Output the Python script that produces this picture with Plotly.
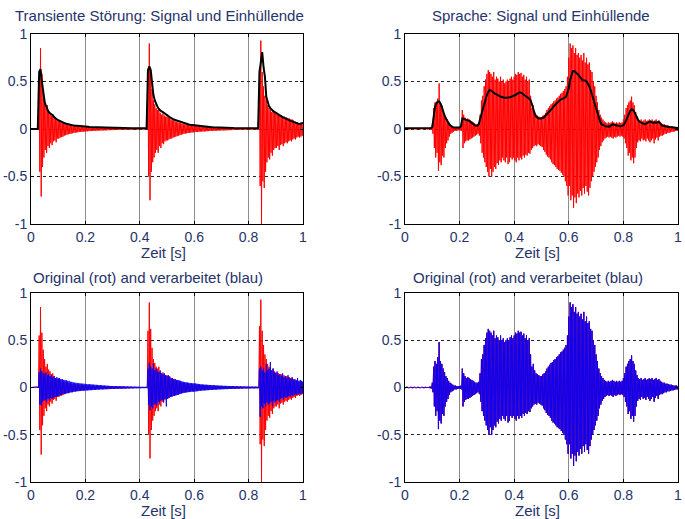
import plotly.graph_objects as go

# time grid of the sampled envelopes (s)
t = [round(0.005 * i, 4) for i in range(201)]
y_ticks = [-1, -0.5, 0, 0.5, 1]
y_tick_text = ["-1", "-0.5", "0", "0.5", "1"]
x_ticks = [0, 0.2, 0.4, 0.6, 0.8, 1]
x_tick_text = ["0", "0.2", "0.4", "0.6", "0.8", "1"]

titles = ["Transiente Störung: Signal und Einhüllende", "Sprache: Signal und Einhüllende",
          "Original (rot) and verarbeitet (blau)", "Original (rot) and verarbeitet (blau)"]
x_label = "Zeit [s]"

# transient signal: upper / lower excursions per 5 ms
trans_up = [
    0, 0, 0, 0, 0, 0.005, 0.55, 0.85, 0.58, 0.40, 0.30, 0.22, 0.25, 0.19, 0.17, 0.14, 0.15, 0.12, 0.10, 0.09,
    0.09, 0.08, 0.075, 0.07, 0.065, 0.06, 0.055, 0.05, 0.045, 0.045, 0.04, 0.04, 0.035, 0.035, 0.03, 0.03, 0.03, 0.028, 0.026, 0.025,
    0.025, 0.024, 0.022, 0.022, 0.02, 0.02, 0.019, 0.018, 0.018, 0.017, 0.016, 0.016, 0.015, 0.015, 0.014, 0.014, 0.013, 0.013, 0.012, 0.012,
    0.012, 0.011, 0.011, 0.01, 0.01, 0.01, 0.009, 0.009, 0.009, 0.008, 0.008, 0.008, 0.007, 0.007, 0.007, 0.006, 0.006, 0.006, 0.006, 0.005,
    0.005, 0.005, 0.005, 0.005, 0.005, 0.005, 0.6, 0.9, 0.62, 0.42, 0.30, 0.26, 0.22, 0.2, 0.22, 0.17, 0.15, 0.16, 0.14, 0.13,
    0.13, 0.12, 0.12, 0.1, 0.09, 0.09, 0.08, 0.075, 0.07, 0.065, 0.06, 0.055, 0.05, 0.048, 0.045, 0.042, 0.04, 0.038, 0.036, 0.034,
    0.033, 0.032, 0.03, 0.03, 0.028, 0.027, 0.026, 0.025, 0.024, 0.023, 0.022, 0.021, 0.02, 0.02, 0.019, 0.018, 0.018, 0.017, 0.016, 0.016,
    0.015, 0.015, 0.014, 0.014, 0.013, 0.013, 0.012, 0.012, 0.011, 0.011, 0.01, 0.01, 0.01, 0.009, 0.009, 0.009, 0.008, 0.008, 0.008, 0.008,
    0.007, 0.007, 0.007, 0.007, 0.007, 0.007, 0.007, 0.007, 0.65, 0.93, 0.6, 0.45, 0.35, 0.3, 0.25, 0.22, 0.2, 0.18, 0.2, 0.17,
    0.16, 0.15, 0.15, 0.14, 0.14, 0.13, 0.13, 0.12, 0.12, 0.11, 0.11, 0.1, 0.1, 0.09, 0.08, 0.07, 0.07, 0.06, 0.065, 0.06,
    0.06]
trans_lo = [
    0, 0, 0, 0, 0, -0.005, -0.45, -0.71, -0.4, -0.3, -0.22, -0.25, -0.18, -0.2, -0.15, -0.17, -0.13, -0.12, -0.14, -0.1,
    -0.1, -0.09, -0.085, -0.08, -0.07, -0.065, -0.06, -0.055, -0.05, -0.05, -0.045, -0.04, -0.04, -0.035, -0.035, -0.03, -0.03, -0.03, -0.028, -0.026,
    -0.025, -0.024, -0.022, -0.022, -0.02, -0.02, -0.019, -0.018, -0.018, -0.017, -0.016, -0.016, -0.015, -0.015, -0.014, -0.014, -0.013, -0.013, -0.012, -0.012,
    -0.012, -0.011, -0.011, -0.01, -0.01, -0.01, -0.009, -0.009, -0.009, -0.008, -0.008, -0.008, -0.007, -0.007, -0.007, -0.006, -0.006, -0.006, -0.006, -0.005,
    -0.005, -0.005, -0.005, -0.005, -0.005, -0.005, -0.5, -0.75, -0.45, -0.35, -0.3, -0.25, -0.22, -0.25, -0.18, -0.2, -0.15, -0.16, -0.13, -0.12,
    -0.12, -0.11, -0.1, -0.1, -0.09, -0.085, -0.08, -0.075, -0.07, -0.065, -0.06, -0.055, -0.05, -0.048, -0.045, -0.042, -0.04, -0.038, -0.036, -0.034,
    -0.033, -0.032, -0.03, -0.03, -0.028, -0.027, -0.026, -0.025, -0.024, -0.023, -0.022, -0.021, -0.02, -0.02, -0.019, -0.018, -0.018, -0.017, -0.016, -0.016,
    -0.015, -0.015, -0.014, -0.014, -0.013, -0.013, -0.012, -0.012, -0.011, -0.011, -0.01, -0.01, -0.01, -0.009, -0.009, -0.009, -0.008, -0.008, -0.008, -0.008,
    -0.007, -0.007, -0.007, -0.007, -0.007, -0.007, -0.007, -0.007, -0.6, -1.0, -0.55, -0.62, -0.45, -0.35, -0.3, -0.32, -0.25, -0.28, -0.22, -0.2,
    -0.2, -0.18, -0.22, -0.17, -0.16, -0.18, -0.15, -0.14, -0.15, -0.13, -0.12, -0.13, -0.11, -0.1, -0.11, -0.09, -0.08, -0.09, -0.08, -0.07,
    -0.07]
trans_env = [
    0, 0, 0, 0, 0, 0, 0.6, 0.63, 0.5, 0.36, 0.29, 0.24, 0.2, 0.18, 0.165, 0.155, 0.145, 0.125, 0.11, 0.1,
    0.093, 0.085, 0.078, 0.07, 0.065, 0.06, 0.055, 0.05, 0.047, 0.044, 0.041, 0.038, 0.036, 0.034, 0.032, 0.03, 0.029, 0.028, 0.027, 0.026,
    0.025, 0.024, 0.023, 0.022, 0.021, 0.02, 0.02, 0.019, 0.018, 0.018, 0.017, 0.017, 0.016, 0.016, 0.015, 0.015, 0.014, 0.014, 0.013, 0.013,
    0.012, 0.012, 0.012, 0.011, 0.011, 0.011, 0.01, 0.01, 0.01, 0.01, 0.009, 0.009, 0.009, 0.009, 0.008, 0.008, 0.008, 0.008, 0.007, 0.007,
    0.007, 0.007, 0.007, 0.007, 0.007, 0.007, 0.62, 0.66, 0.62, 0.45, 0.36, 0.3, 0.26, 0.235, 0.21, 0.195, 0.185, 0.178, 0.165, 0.155,
    0.147, 0.135, 0.125, 0.115, 0.105, 0.1, 0.095, 0.09, 0.08, 0.075, 0.07, 0.065, 0.06, 0.056, 0.053, 0.05, 0.047, 0.044, 0.042, 0.04,
    0.038, 0.036, 0.034, 0.032, 0.03, 0.028, 0.026, 0.025, 0.024, 0.023, 0.022, 0.021, 0.02, 0.019, 0.018, 0.018, 0.017, 0.016, 0.016, 0.015,
    0.015, 0.014, 0.014, 0.013, 0.013, 0.012, 0.012, 0.011, 0.011, 0.01, 0.01, 0.01, 0.009, 0.009, 0.009, 0.008, 0.008, 0.008, 0.008, 0.008,
    0.008, 0.008, 0.008, 0.008, 0.008, 0.008, 0.008, 0.008, 0.6, 0.7, 0.81, 0.65, 0.55, 0.34, 0.28, 0.24, 0.22, 0.2, 0.19, 0.18,
    0.17, 0.16, 0.15, 0.14, 0.13, 0.125, 0.12, 0.115, 0.11, 0.1, 0.09, 0.085, 0.08, 0.077, 0.07, 0.06, 0.055, 0.053, 0.055, 0.06,
    0.065]
# processed (compressed) transient signal
trans_proc_up = [
    0, 0, 0, 0, 0, 0.005, 0.16, 0.2, 0.17, 0.15, 0.14, 0.16, 0.13, 0.14, 0.12, 0.13, 0.11, 0.12, 0.1, 0.11,
    0.1, 0.1, 0.09, 0.09, 0.08, 0.08, 0.075, 0.07, 0.07, 0.06, 0.06, 0.055, 0.05, 0.05, 0.048, 0.045, 0.044, 0.042, 0.04, 0.04,
    0.038, 0.036, 0.035, 0.034, 0.033, 0.032, 0.03, 0.029, 0.028, 0.027, 0.026, 0.025, 0.024, 0.022, 0.021, 0.02, 0.019, 0.018, 0.017, 0.016,
    0.016, 0.015, 0.015, 0.014, 0.014, 0.013, 0.013, 0.012, 0.012, 0.011, 0.011, 0.01, 0.01, 0.01, 0.009, 0.009, 0.009, 0.008, 0.008, 0.008,
    0.008, 0.007, 0.007, 0.007, 0.007, 0.007, 0.2, 0.26, 0.22, 0.2, 0.25, 0.18, 0.2, 0.17, 0.16, 0.18, 0.15, 0.14, 0.15, 0.13,
    0.12, 0.13, 0.11, 0.1, 0.1, 0.09, 0.09, 0.08, 0.08, 0.075, 0.07, 0.065, 0.06, 0.058, 0.055, 0.052, 0.05, 0.048, 0.046, 0.045,
    0.044, 0.042, 0.04, 0.038, 0.036, 0.034, 0.032, 0.031, 0.03, 0.029, 0.028, 0.027, 0.026, 0.025, 0.024, 0.023, 0.022, 0.021, 0.02, 0.02,
    0.019, 0.018, 0.018, 0.017, 0.017, 0.016, 0.016, 0.015, 0.015, 0.014, 0.014, 0.013, 0.013, 0.012, 0.012, 0.011, 0.011, 0.01, 0.01, 0.01,
    0.01, 0.01, 0.009, 0.009, 0.009, 0.009, 0.008, 0.008, 0.2, 0.22, 0.18, 0.2, 0.16, 0.25, 0.18, 0.2, 0.27, 0.18, 0.2, 0.16,
    0.15, 0.17, 0.13, 0.14, 0.12, 0.15, 0.11, 0.12, 0.1, 0.13, 0.1, 0.09, 0.11, 0.08, 0.09, 0.08, 0.1, 0.07, 0.08, 0.07,
    0.06]
trans_proc_lo = [
    0, 0, 0, 0, 0, -0.005, -0.18, -0.19, -0.15, -0.14, -0.13, -0.15, -0.12, -0.13, -0.11, -0.12, -0.11, -0.1, -0.1, -0.09,
    -0.09, -0.08, -0.08, -0.07, -0.07, -0.065, -0.06, -0.06, -0.055, -0.05, -0.05, -0.045, -0.045, -0.04, -0.04, -0.038, -0.037, -0.035, -0.034, -0.033,
    -0.032, -0.031, -0.03, -0.029, -0.028, -0.027, -0.026, -0.025, -0.024, -0.023, -0.022, -0.021, -0.02, -0.02, -0.019, -0.018, -0.018, -0.017, -0.016, -0.016,
    -0.015, -0.015, -0.014, -0.014, -0.013, -0.013, -0.012, -0.012, -0.011, -0.011, -0.01, -0.01, -0.01, -0.009, -0.009, -0.009, -0.008, -0.008, -0.008, -0.008,
    -0.008, -0.007, -0.007, -0.007, -0.007, -0.007, -0.18, -0.24, -0.2, -0.22, -0.18, -0.17, -0.19, -0.15, -0.16, -0.14, -0.13, -0.15, -0.12, -0.2,
    -0.12, -0.11, -0.1, -0.1, -0.09, -0.09, -0.085, -0.08, -0.075, -0.07, -0.065, -0.06, -0.058, -0.055, -0.052, -0.05, -0.048, -0.046, -0.045, -0.044,
    -0.043, -0.041, -0.039, -0.037, -0.035, -0.033, -0.032, -0.031, -0.03, -0.029, -0.028, -0.027, -0.026, -0.025, -0.024, -0.023, -0.022, -0.021, -0.02, -0.02,
    -0.019, -0.018, -0.018, -0.017, -0.017, -0.016, -0.016, -0.015, -0.015, -0.014, -0.014, -0.013, -0.013, -0.012, -0.012, -0.011, -0.011, -0.01, -0.01, -0.01,
    -0.01, -0.01, -0.009, -0.009, -0.009, -0.009, -0.008, -0.008, -0.31, -0.2, -0.22, -0.17, -0.2, -0.16, -0.18, -0.17, -0.15, -0.2, -0.14, -0.16,
    -0.14, -0.13, -0.15, -0.12, -0.11, -0.13, -0.1, -0.11, -0.1, -0.09, -0.1, -0.08, -0.09, -0.08, -0.07, -0.08, -0.07, -0.06, -0.07, -0.06,
    -0.05]

# speech signal: upper / lower excursions per 5 ms
speech_up = [
    0.003, 0.003, 0.003, 0.003, 0.003, 0.003, 0.003, 0.003, 0.003, 0.003, 0.003, 0.003, 0.003, 0.003, 0.003, 0.003, 0.004, 0.005, 0.008, 0.01,
    0.05, 0.22, 0.28, 0.25, 0.32, 0.48, 0.28, 0.25, 0.2, 0.16, 0.12, 0.1, 0.07, 0.05, 0.04, 0.03, 0.02, 0.02, 0.015, 0.015,
    0.015, 0.02, 0.2, 0.15, 0.12, 0.1, 0.11, 0.1, 0.09, 0.08, 0.07, 0.06, 0.05, 0.05, 0.06, 0.15, 0.3, 0.35, 0.45, 0.52,
    0.58, 0.62, 0.6, 0.58, 0.55, 0.6, 0.52, 0.55, 0.53, 0.5, 0.55, 0.5, 0.52, 0.48, 0.5, 0.52, 0.5, 0.53, 0.55, 0.52,
    0.55, 0.58, 0.57, 0.6, 0.58, 0.59, 0.55, 0.57, 0.52, 0.55, 0.5, 0.52, 0.35, 0.22, 0.25, 0.18, 0.15, 0.14, 0.13, 0.12,
    0.12, 0.14, 0.15, 0.17, 0.2, 0.22, 0.24, 0.26, 0.27, 0.29, 0.3, 0.32, 0.33, 0.35, 0.37, 0.38, 0.4, 0.42, 0.45, 0.55,
    0.75, 0.9, 0.85, 0.88, 0.8, 0.85, 0.78, 0.8, 0.75, 0.78, 0.72, 0.8, 0.7, 0.75, 0.68, 0.7, 0.62, 0.6, 0.5, 0.45,
    0.35, 0.28, 0.2, 0.15, 0.12, 0.1, 0.08, 0.07, 0.06, 0.07, 0.06, 0.07, 0.08, 0.07, 0.06, 0.07, 0.06, 0.07, 0.06, 0.07,
    0.1, 0.15, 0.22, 0.25, 0.28, 0.3, 0.34, 0.28, 0.25, 0.18, 0.13, 0.1, 0.09, 0.1, 0.08, 0.09, 0.1, 0.08, 0.09, 0.1,
    0.09, 0.1, 0.08, 0.09, 0.1, 0.08, 0.09, 0.07, 0.06, 0.05, 0.05, 0.04, 0.04, 0.035, 0.03, 0.03, 0.025, 0.02, 0.02, 0.02,
    0.015]
speech_lo = [
    -0.003, -0.003, -0.003, -0.003, -0.003, -0.003, -0.003, -0.003, -0.003, -0.003, -0.003, -0.003, -0.003, -0.003, -0.003, -0.003, -0.004, -0.005, -0.008, -0.01,
    -0.05, -0.2, -0.3, -0.25, -0.44, -0.35, -0.38, -0.28, -0.3, -0.2, -0.15, -0.12, -0.08, -0.05, -0.04, -0.03, -0.02, -0.02, -0.015, -0.015,
    -0.015, -0.02, -0.2, -0.15, -0.13, -0.12, -0.12, -0.11, -0.1, -0.09, -0.08, -0.07, -0.06, -0.05, -0.07, -0.15, -0.25, -0.3, -0.35, -0.4,
    -0.45, -0.5, -0.42, -0.5, -0.45, -0.4, -0.42, -0.36, -0.38, -0.33, -0.35, -0.3, -0.33, -0.35, -0.3, -0.37, -0.35, -0.3, -0.32, -0.3,
    -0.33, -0.35, -0.3, -0.33, -0.3, -0.32, -0.28, -0.3, -0.27, -0.28, -0.25, -0.26, -0.22, -0.2, -0.18, -0.17, -0.18, -0.16, -0.17, -0.18,
    -0.19, -0.22, -0.24, -0.27, -0.29, -0.3, -0.32, -0.35, -0.37, -0.38, -0.4, -0.42, -0.43, -0.44, -0.46, -0.48, -0.5, -0.55, -0.6, -0.7,
    -0.6, -0.75, -0.7, -0.83, -0.72, -0.78, -0.68, -0.72, -0.65, -0.7, -0.62, -0.68, -0.6, -0.66, -0.7, -0.62, -0.55, -0.5, -0.45, -0.4,
    -0.35, -0.3, -0.22, -0.18, -0.14, -0.12, -0.1, -0.09, -0.08, -0.09, -0.08, -0.09, -0.1, -0.08, -0.09, -0.08, -0.07, -0.08, -0.07, -0.08,
    -0.1, -0.15, -0.2, -0.28, -0.25, -0.33, -0.3, -0.36, -0.3, -0.2, -0.14, -0.12, -0.13, -0.1, -0.12, -0.11, -0.13, -0.1, -0.12, -0.14,
    -0.12, -0.1, -0.15, -0.11, -0.09, -0.12, -0.08, -0.07, -0.07, -0.06, -0.05, -0.05, -0.04, -0.04, -0.035, -0.03, -0.03, -0.025, -0.02, -0.02,
    -0.015]
speech_env = [
    0.008, 0.008, 0.008, 0.008, 0.008, 0.008, 0.008, 0.008, 0.008, 0.008, 0.008, 0.008, 0.008, 0.008, 0.008, 0.008, 0.008, 0.008, 0.009, 0.01,
    0.02, 0.15, 0.235, 0.27, 0.29, 0.29, 0.27, 0.23, 0.18, 0.14, 0.11, 0.08, 0.06, 0.04, 0.025, 0.02, 0.015, 0.015, 0.015, 0.015,
    0.015, 0.03, 0.11, 0.105, 0.1, 0.1, 0.095, 0.085, 0.075, 0.06, 0.045, 0.04, 0.035, 0.035, 0.05, 0.1, 0.165, 0.22, 0.27, 0.32,
    0.36, 0.39, 0.41, 0.405, 0.39, 0.38, 0.37, 0.365, 0.36, 0.35, 0.34, 0.335, 0.33, 0.33, 0.33, 0.33, 0.33, 0.335, 0.34, 0.345,
    0.35, 0.36, 0.37, 0.38, 0.385, 0.38, 0.375, 0.36, 0.345, 0.34, 0.33, 0.32, 0.305, 0.26, 0.2, 0.16, 0.13, 0.12, 0.11, 0.11,
    0.11, 0.115, 0.125, 0.14, 0.15, 0.17, 0.19, 0.205, 0.22, 0.24, 0.255, 0.275, 0.29, 0.3, 0.31, 0.315, 0.32, 0.33, 0.34, 0.38,
    0.43, 0.52, 0.58, 0.61, 0.61, 0.6, 0.585, 0.57, 0.55, 0.53, 0.515, 0.51, 0.51, 0.5, 0.48, 0.45, 0.41, 0.36, 0.305, 0.25,
    0.2, 0.15, 0.11, 0.075, 0.05, 0.04, 0.03, 0.028, 0.026, 0.025, 0.025, 0.04, 0.05, 0.045, 0.04, 0.037, 0.035, 0.032, 0.03, 0.035,
    0.04, 0.06, 0.095, 0.13, 0.165, 0.19, 0.21, 0.2, 0.18, 0.145, 0.11, 0.09, 0.075, 0.065, 0.06, 0.055, 0.05, 0.06, 0.07, 0.075,
    0.075, 0.07, 0.065, 0.07, 0.065, 0.07, 0.075, 0.06, 0.04, 0.035, 0.03, 0.028, 0.025, 0.022, 0.02, 0.018, 0.015, 0.013, 0.012, 0.011,
    0.01]
# processed speech is visually identical to the original
speech_proc_up = speech_up
speech_proc_lo = speech_lo

RED = "#ff0000"
BLUE = "#0000ff"
TXT = "#26336a"
FONT = "Liberation Sans, Arial, sans-serif"

W, H = 685, 519
# plot rectangles in page pixels: (left, right, top, bottom)
boxes = [(31, 303, 34, 224), (405, 678, 34, 224), (31, 303, 293, 482), (405, 678, 293, 482)]
title_pos = [(159, 16), (541, 16), (148, 277), (528, 277)]


def px_x(v):
    return v / W


def px_y(v):
    return 1 - v / H


def zigzag(up, lo):
    xs, ys = [], []
    for i in range(len(t)):
        xs += [t[i], t[i] + 0.0025]
        ys += [up[i], lo[i]]
    return xs, ys


fig = go.Figure()
panels = [
    [(trans_up, trans_lo, RED, 1.0), ("env", trans_env)],
    [(speech_up, speech_lo, RED, 1.0), ("env", speech_env)],
    [(trans_up, trans_lo, RED, 1.0), (trans_proc_up, trans_proc_lo, BLUE, 0.95)],
    [(speech_up, speech_lo, RED, 1.0), (speech_proc_up, speech_proc_lo, BLUE, 0.95)],
]
for k, items in enumerate(panels):
    ax = "" if k == 0 else str(k + 1)
    for it in items:
        if it[0] == "env":
            fig.add_trace(go.Scatter(x=t, y=it[1], mode="lines", line=dict(color="black", width=2),
                                     xaxis="x" + ax, yaxis="y" + ax, showlegend=False, hoverinfo="skip"))
        else:
            xs, ys = zigzag(it[0], it[1])
            fig.add_trace(go.Scatter(x=xs, y=ys, mode="lines", line=dict(color=it[2], width=1),
                                     opacity=it[3], xaxis="x" + ax, yaxis="y" + ax,
                                     showlegend=False, hoverinfo="skip"))

FS = 15
TFS = 14
layout = dict(width=W, height=H, margin=dict(l=0, r=0, t=0, b=0, autoexpand=False),
              paper_bgcolor="white", plot_bgcolor="white",
              font=dict(family=FONT, size=FS, color=TXT), annotations=[])
for k, (l, r, tp, b) in enumerate(boxes):
    ax = "" if k == 0 else str(k + 1)
    layout["xaxis" + ax] = dict(domain=[px_x(l), px_x(r)], range=[0, 1], anchor="y" + ax, automargin=False,
                                tickvals=x_ticks, ticktext=x_tick_text, showgrid=True,
                                gridcolor="#8c8c8c", gridwidth=1, zeroline=False,
                                showline=True, linecolor="black", linewidth=1, mirror="ticks",
                                ticks="inside", ticklen=3, tickcolor="black",
                                tickfont=dict(size=TFS, color=TXT))
    layout["yaxis" + ax] = dict(domain=[px_y(b), px_y(tp)], range=[-1, 1], anchor="x" + ax, automargin=False,
                                tickvals=y_ticks, ticktext=y_tick_text, showgrid=True,
                                gridcolor="#222222", griddash="dot", gridwidth=1, zeroline=False,
                                showline=True, linecolor="black", linewidth=1, mirror="ticks",
                                ticks="inside", ticklen=3, tickcolor="black",
                                tickfont=dict(size=TFS, color=TXT))
    tx, ty = title_pos[k]
    layout["annotations"].append(dict(text=titles[k], x=px_x(tx), y=px_y(ty), xref="paper", yref="paper",
                                      xanchor="center", yanchor="middle", showarrow=False,
                                      font=dict(size=FS, color=TXT)))
    layout["annotations"].append(dict(text=x_label, x=px_x((l + r) / 2 - 4), y=px_y(b + 28),
                                      xref="paper", yref="paper", xanchor="center", yanchor="middle",
                                      showarrow=False, font=dict(size=FS, color=TXT)))
fig.update_layout(**layout)
# remove the browser's default 8px page margin so the figure fills the window exactly
fig.write_html("out.html", config={"displayModeBar": False},
               post_script="document.body.style.margin='0';")
